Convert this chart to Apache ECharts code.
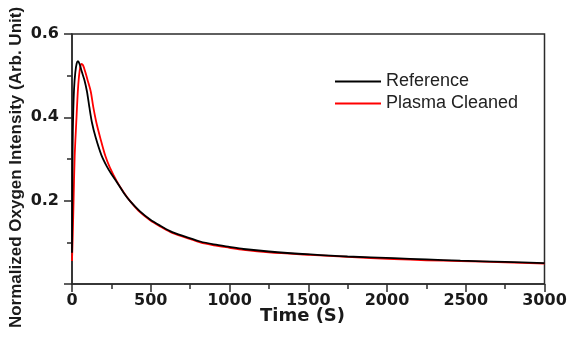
<!DOCTYPE html>
<html>
<head>
<meta charset="utf-8">
<script src="https://cdn.jsdelivr.net/npm/echarts@6/dist/echarts.min.js"></script>
<style>
html,body{margin:0;padding:0;background:#fff;}
#chart{width:574px;height:339px;}
</style>
</head>
<body>
<div id="chart"></div>
<script>
// Data
var seriesNames = ['Reference', 'Plasma Cleaned'];
var xTicks = [0, 500, 1000, 1500, 2000, 2500, 3000];
var yTicks = [0.2, 0.4, 0.6];

var refTime = [0, 2, 4, 7, 13, 21, 30, 38, 48, 58, 66, 80, 95, 110, 127, 150, 186, 220, 250, 284, 330, 369, 430, 496, 560, 623, 700, 814, 900, 1000, 1089, 1250, 1513, 1750, 2043, 2250, 2466, 2750, 3000];
var refValue = [0.075, 0.2, 0.33, 0.40, 0.468, 0.508, 0.53, 0.535, 0.528, 0.515, 0.505, 0.488, 0.462, 0.425, 0.387, 0.352, 0.31, 0.283, 0.264, 0.245, 0.218, 0.199, 0.175, 0.155, 0.14, 0.127, 0.116, 0.102, 0.095, 0.089, 0.084, 0.078, 0.071, 0.066, 0.062, 0.059, 0.056, 0.053, 0.050];

var plasmaTime = [0, 5, 10, 17, 27, 38, 48, 59, 70, 85, 100, 119, 135, 155, 180, 212, 240, 284, 330, 369, 430, 496, 560, 623, 700, 814, 900, 1000, 1089, 1250, 1513, 1750, 2043, 2250, 2466, 2750, 3000];
var plasmaValue = [0.055, 0.12, 0.2, 0.307, 0.387, 0.468, 0.51, 0.528, 0.525, 0.508, 0.488, 0.462, 0.425, 0.387, 0.35, 0.307, 0.28, 0.247, 0.219, 0.199, 0.173, 0.153, 0.138, 0.125, 0.114, 0.1, 0.093, 0.087, 0.082, 0.076, 0.07, 0.065, 0.06, 0.057, 0.055, 0.052, 0.049];

function pairs(xs, ys) { return xs.map(function (x, i) { return [x, ys[i]]; }); }

var axisColor = '#2b2b2b';
var tickFont = { fontFamily: 'DejaVu Sans', fontWeight: 'bold', fontSize: 16, color: '#1a1a1a' };

var chart = echarts.init(document.getElementById('chart'), null, { renderer: 'canvas' });
chart.setOption({
  animation: false,
  backgroundColor: '#ffffff',
  grid: { left: 72, right: 29.5, top: 34, bottom: 55, show: true, borderColor: axisColor, borderWidth: 1.5, containLabel: false },
  legend: {
    data: seriesNames,
    orient: 'vertical',
    left: 330,
    top: 67.5,
    itemWidth: 46,
    itemHeight: 2,
    itemGap: 4,
    icon: 'rect',
    textStyle: { fontFamily: 'Liberation Sans', fontSize: 18, color: '#222', lineHeight: 18 }
  },
  xAxis: {
    type: 'value',
    min: xTicks[0],
    max: xTicks[xTicks.length - 1],
    interval: 500,
    axisLine: { show: true, lineStyle: { color: axisColor, width: 1.5 } },
    axisTick: { show: true, length: 8, lineStyle: { color: axisColor, width: 1.5 } },
    minorTick: { show: true, splitNumber: 2, length: 5, lineStyle: { color: axisColor, width: 1.5 } },
    splitLine: { show: false },
    axisLabel: Object.assign({
      margin: 9,
      formatter: function (v) { return xTicks.indexOf(v) >= 0 ? String(v) : ''; }
    }, tickFont)
  },
  yAxis: {
    type: 'value',
    min: 0,
    max: 0.6,
    interval: 0.2,
    axisLine: { show: true, lineStyle: { color: axisColor, width: 1.5 } },
    axisTick: { show: true, length: 8, lineStyle: { color: axisColor, width: 1.5 } },
    minorTick: { show: true, splitNumber: 2, length: 5, lineStyle: { color: axisColor, width: 1.5 } },
    splitLine: { show: false },
    axisLabel: Object.assign({
      margin: 13,
      formatter: function (v) { return yTicks.indexOf(Math.round(v * 10) / 10) >= 0 ? v.toFixed(1) : ''; }
    }, tickFont)
  },
  graphic: [
    {
      type: 'text', x: 302.5, y: 316,
      style: { text: 'Time (S)', fontFamily: 'DejaVu Sans', fontWeight: 'bold', fontSize: 18, fill: '#1a1a1a', textAlign: 'center', textVerticalAlign: 'middle' }
    },
    {
      type: 'text', x: 16.5, y: 167.5, rotation: Math.PI / 2,
      style: { text: 'Normalized Oxygen Intensity (Arb. Unit)', fontFamily: 'Liberation Sans', fontWeight: 'bold', fontSize: 17, fill: '#1a1a1a', textAlign: 'center', textVerticalAlign: 'middle' }
    }
  ],
  series: [
    {
      name: seriesNames[1], type: 'line', data: pairs(plasmaTime, plasmaValue),
      showSymbol: false, symbol: 'none', smooth: 0.3, z: 2,
      lineStyle: { color: '#ff0000', width: 1.8 }, itemStyle: { color: '#ff0000' }
    },
    {
      name: seriesNames[0], type: 'line', data: pairs(refTime, refValue),
      showSymbol: false, symbol: 'none', smooth: 0.3, z: 3,
      lineStyle: { color: '#000000', width: 1.8 }, itemStyle: { color: '#000000' }
    }
  ]
});
</script>
</body>
</html>
